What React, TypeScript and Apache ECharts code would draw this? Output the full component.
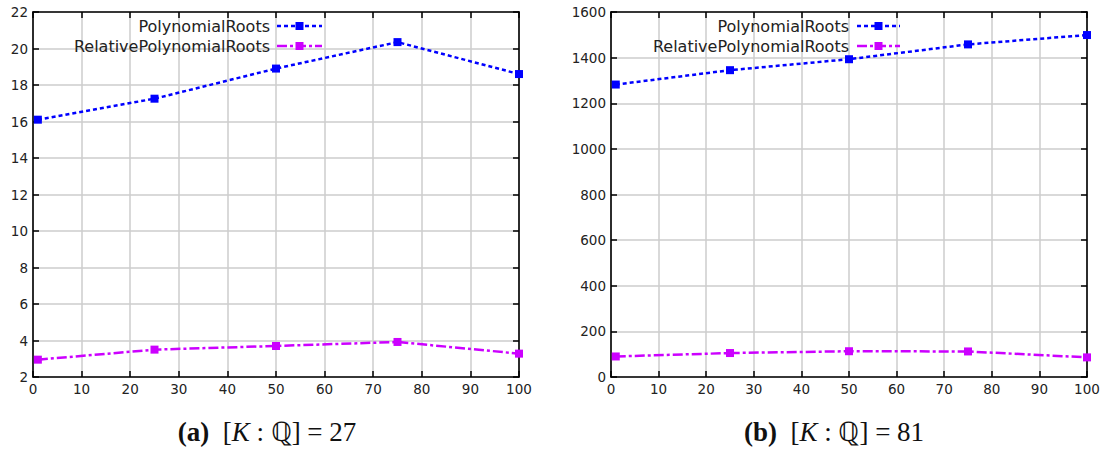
import React, { useEffect, useRef } from "react";
import * as echarts from "echarts";

// Sample sizes on the horizontal axis
const xs = [1, 25, 50, 75, 100];

// Panel (a): [K:Q] = 27
const polyA = [16.1, 17.25, 18.9, 20.35, 18.6];
const relA = [2.95, 3.5, 3.7, 3.92, 3.28];

// Panel (b): [K:Q] = 81
const polyB = [1282, 1345, 1393, 1458, 1499];
const relB = [90, 105, 113, 112, 86];

const seriesNames = ["PolynomialRoots", "RelativePolynomialRoots"];
const panelTags = ["(a)", "(b)"];
const degrees = [27, 81];

const yRanges = [
  { min: 2, max: 22, interval: 2 },
  { min: 0, max: 1600, interval: 200 },
];

const BLUE = "#0000ff";
const MAGENTA = "#cc00ff";
const DASH_POLY = [4, 3];
const DASH_REL = [10, 3, 3, 3];
const LABEL_FONT = "DejaVu Sans";

const grids = [
  { left: 33, right: 1107 - 519, top: 12, bottom: 450 - 377 },
  { left: 611, right: 1107 - 1087, top: 12, bottom: 450 - 377 },
];

// legend anchor: right edge of text, line start/end, row y
const legendPos = [
  { textRight: 270, lineStart: 277, lineEnd: 322, y0: 26, y1: 46 },
  { textRight: 849, lineStart: 857, lineEnd: 900, y0: 26, y1: 46 },
];

const captionCenters = [267, 834];

function pairs(values: number[]) {
  return xs.map((x, i) => [x, values[i]]);
}

const plain = (v: number) => String(v);

export default function App() {
  const ref = useRef<HTMLDivElement | null>(null);

  useEffect(() => {
    if (!ref.current) return;
    const chart = echarts.init(ref.current, undefined, { renderer: "svg" });

    const tickStyle = { show: true, inside: true, length: 6, lineStyle: { color: "#000", width: 1.5 } };
    const frameLine = { show: true, onZero: false, lineStyle: { color: "#000", width: 1.6 } };
    const labelStyle = { color: "#222", fontFamily: LABEL_FONT, fontSize: 13.5, margin: 5, formatter: plain };
    const gridLine = { show: true, lineStyle: { color: "#cccccc", width: 1.5 } };

    const xAxis: any[] = [];
    const yAxis: any[] = [];
    grids.forEach((_, g) => {
      // bottom axis with labels and grid lines
      xAxis.push({
        type: "value",
        gridIndex: g,
        position: "bottom",
        min: 0,
        max: 100,
        interval: 10,
        axisLine: frameLine,
        axisTick: tickStyle,
        axisLabel: labelStyle,
        splitLine: gridLine,
      });
      // mirrored top axis: ticks only
      xAxis.push({
        type: "value",
        gridIndex: g,
        position: "top",
        min: 0,
        max: 100,
        interval: 10,
        axisLine: frameLine,
        axisTick: tickStyle,
        axisLabel: { show: false },
        splitLine: { show: false },
      });
      const r = yRanges[g];
      yAxis.push({
        type: "value",
        gridIndex: g,
        position: "left",
        min: r.min,
        max: r.max,
        interval: r.interval,
        axisLine: frameLine,
        axisTick: tickStyle,
        axisLabel: labelStyle,
        splitLine: gridLine,
      });
      yAxis.push({
        type: "value",
        gridIndex: g,
        position: "right",
        min: r.min,
        max: r.max,
        interval: r.interval,
        axisLine: frameLine,
        axisTick: tickStyle,
        axisLabel: { show: false },
        splitLine: { show: false },
      });
    });

    const panels = [
      { poly: polyA, rel: relA },
      { poly: polyB, rel: relB },
    ];

    const series: any[] = [];
    panels.forEach((p, g) => {
      series.push({
        type: "line",
        name: seriesNames[0],
        xAxisIndex: g * 2,
        yAxisIndex: g * 2,
        data: pairs(p.poly),
        symbol: "rect",
        symbolSize: 8,
        itemStyle: { color: BLUE },
        lineStyle: { color: BLUE, width: 2.5, type: DASH_POLY },
        z: 3,
      });
      series.push({
        type: "line",
        name: seriesNames[1],
        xAxisIndex: g * 2,
        yAxisIndex: g * 2,
        data: pairs(p.rel),
        symbol: "rect",
        symbolSize: 8,
        itemStyle: { color: MAGENTA },
        lineStyle: { color: MAGENTA, width: 2.5, type: DASH_REL },
        z: 3,
      });
    });

    const graphic: any[] = [];
    legendPos.forEach((l) => {
      const rows = [
        { name: seriesNames[0], y: l.y0, color: BLUE, dash: DASH_POLY },
        { name: seriesNames[1], y: l.y1, color: MAGENTA, dash: DASH_REL },
      ];
      rows.forEach((row) => {
        graphic.push({
          type: "text",
          x: l.textRight,
          y: row.y,
          z: 10,
          style: {
            text: row.name,
            fill: "#222",
            font: `16px "${LABEL_FONT}"`,
            align: "right",
            verticalAlign: "middle",
          },
        });
        graphic.push({
          type: "line",
          z: 10,
          shape: { x1: l.lineStart, y1: row.y, x2: l.lineEnd, y2: row.y },
          style: { stroke: row.color, lineWidth: 2.5, lineDash: row.dash },
        });
        const mid = (l.lineStart + l.lineEnd) / 2;
        graphic.push({
          type: "rect",
          z: 11,
          shape: { x: mid - 4, y: row.y - 4, width: 8, height: 8 },
          style: { fill: row.color },
        });
      });
    });

    panelTags.forEach((tag, i) => {
      graphic.push({
        type: "text",
        x: captionCenters[i],
        y: 432,
        style: {
          text: `{b|${tag}}  [{i|K} : ℚ] = ${degrees[i]}`,
          fill: "#111",
          fontFamily: "Liberation Serif",
          fontSize: 27,
          align: "center",
          verticalAlign: "middle",
          rich: {
            b: { fontFamily: "Liberation Serif", fontSize: 27, fontWeight: "bold", fill: "#111" },
            i: { fontFamily: "Liberation Serif", fontSize: 27, fontStyle: "italic", fill: "#111" },
          },
        },
      });
    });

    chart.setOption({
      animation: false,
      backgroundColor: "#ffffff",
      grid: grids,
      xAxis,
      yAxis,
      series,
      graphic,
    });

    return () => chart.dispose();
  }, []);

  return (
    <div
      ref={ref}
      style={{ position: "fixed", left: 0, top: 0, width: 1107, height: 450 }}
    />
  );
}
